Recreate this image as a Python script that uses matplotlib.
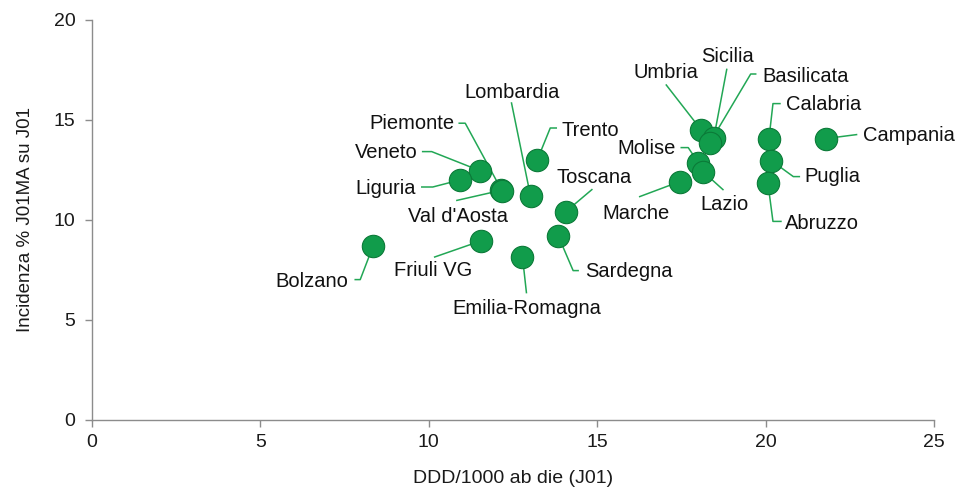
import matplotlib.pyplot as plt
from matplotlib.lines import Line2D
from matplotlib.transforms import IdentityTransform

plt.rcParams['font.family'] = ['Liberation Sans', 'DejaVu Sans']

regions = ['Bolzano', 'Friuli VG', 'Emilia-Romagna', 'Sardegna', 'Toscana',
           'Lombardia', 'Trento', "Val d'Aosta", 'Piemonte', 'Veneto', 'Liguria',
           'Umbria', 'Sicilia', 'Basilicata', 'Calabria', 'Campania', 'Molise',
           'Lazio', 'Marche', 'Puglia', 'Abruzzo']
ddd = [8.35, 11.54, 12.78, 13.84, 14.07,
       13.02, 13.22, 12.14, 12.18, 11.51, 10.92,
       18.09, 18.46, 18.34, 20.10, 21.78, 18.00,
       18.14, 17.45, 20.17, 20.07]
incid = [8.72, 8.95, 8.17, 9.22, 10.42,
         11.20, 13.00, 11.48, 11.44, 12.47, 12.00,
         14.50, 14.08, 13.85, 14.07, 14.07, 12.87,
         12.42, 11.92, 12.97, 11.83]

# label layout: text offset (px, y down), alignment, leader vertices (px offsets)
layout = {
    'Bolzano':        ((-25, 36), 'right', [(-18, 34), (-13, 34)]),
    'Friuli VG':      ((-48, 29), 'center', [(-46, 16)]),
    'Emilia-Romagna': ((4, 52), 'center', [(4, 36)]),
    'Sardegna':       ((27, 36), 'left', [(20, 35), (15, 35)]),
    'Toscana':        ((-9, -34), 'left', [(26, -22)]),
    'Lombardia':      ((-18, -104), 'center', [(-19, -93)]),
    'Trento':         ((24, -30), 'left', [(19, -32), (13, -32)]),
    "Val d'Aosta":    ((-43, 26), 'center', [(-44, 10)]),
    'Piemonte':       ((-48, -68), 'right', [(-43, -68), (-37, -68)]),
    'Veneto':         ((-62, -18), 'right', [(-57, -19), (-48, -19)]),
    'Liguria':        ((-44, 9), 'right', [(-38, 7), (-27, 7)]),
    'Umbria':         ((-35, -57), 'center', [(-35, -45)]),
    'Sicilia':        ((14, -82), 'center', [(13, -69)]),
    'Basilicata':     ((53, -67), 'left', [(46, -69), (41, -69)]),
    'Calabria':       ((17, -34), 'left', [(11, -35), (4, -35)]),
    'Campania':       ((37, -3), 'left', [(31, -4)]),
    'Molise':         ((-22, -14), 'right', [(-17, -15), (-10, -15)]),
    'Lazio':          ((22, 33), 'center', [(20, 18)]),
    'Marche':         ((-10, 32), 'right', [(-40, 15)]),
    'Puglia':         ((33, 16), 'left', [(28, 16), (22, 16)]),
    'Abruzzo':        ((17, 40), 'left', [(13, 38), (5, 38)]),
}

green = '#119c4b'
line_green = '#22a755'
grey = '#8c8c8c'

fig = plt.figure(figsize=(9.57, 4.92), dpi=100)
ax = fig.add_axes([92 / 957, 72 / 492, 842 / 957, 400 / 492])

ax.scatter(ddd, incid, s=260, color=green, edgecolors='#0b7a38', linewidths=0.8, zorder=3)

ax.set_xlim(0, 25)
ax.set_ylim(0, 20)
ax.set_xticks(range(0, 26, 5))
ax.set_yticks(range(0, 21, 5))
for side in ['top', 'right']:
    ax.spines[side].set_visible(False)
for side in ['left', 'bottom']:
    ax.spines[side].set_color(grey)
    ax.spines[side].set_linewidth(1.0)
ax.tick_params(axis='both', colors=grey, labelcolor='#1a1a1a', labelsize=14,
               length=5, width=1.0)
ax.tick_params(axis='x', pad=5)
ax.tick_params(axis='y', pad=7)
ax.set_xlabel('DDD/1000 ab die (J01)', fontsize=14, color='#1a1a1a', labelpad=14)
ax.set_ylabel('Incidenza % J01MA su J01', fontsize=13.5, color='#1a1a1a', labelpad=14)

fig.canvas.draw()
H = fig.bbox.height
for name, x, y in zip(regions, ddd, incid):
    (tx, ty), ha, leader = layout[name]
    px, py = ax.transData.transform((x, y))
    verts = leader + [(0, 0)]
    xs = [px + dx for dx, dy in verts]
    ys = [py - dy for dx, dy in verts]
    fig.add_artist(Line2D(xs, ys, transform=IdentityTransform(), color=line_green,
                          linewidth=1.1, zorder=2))
    fig.text((px + tx) / fig.bbox.width, (py - ty) / H, name, ha=ha, va='center',
             fontsize=14.5, color='#111111')

# keep markers above leader lines
ax.set_zorder(3)
ax.patch.set_alpha(0)

fig.savefig('out.png', dpi=100)
